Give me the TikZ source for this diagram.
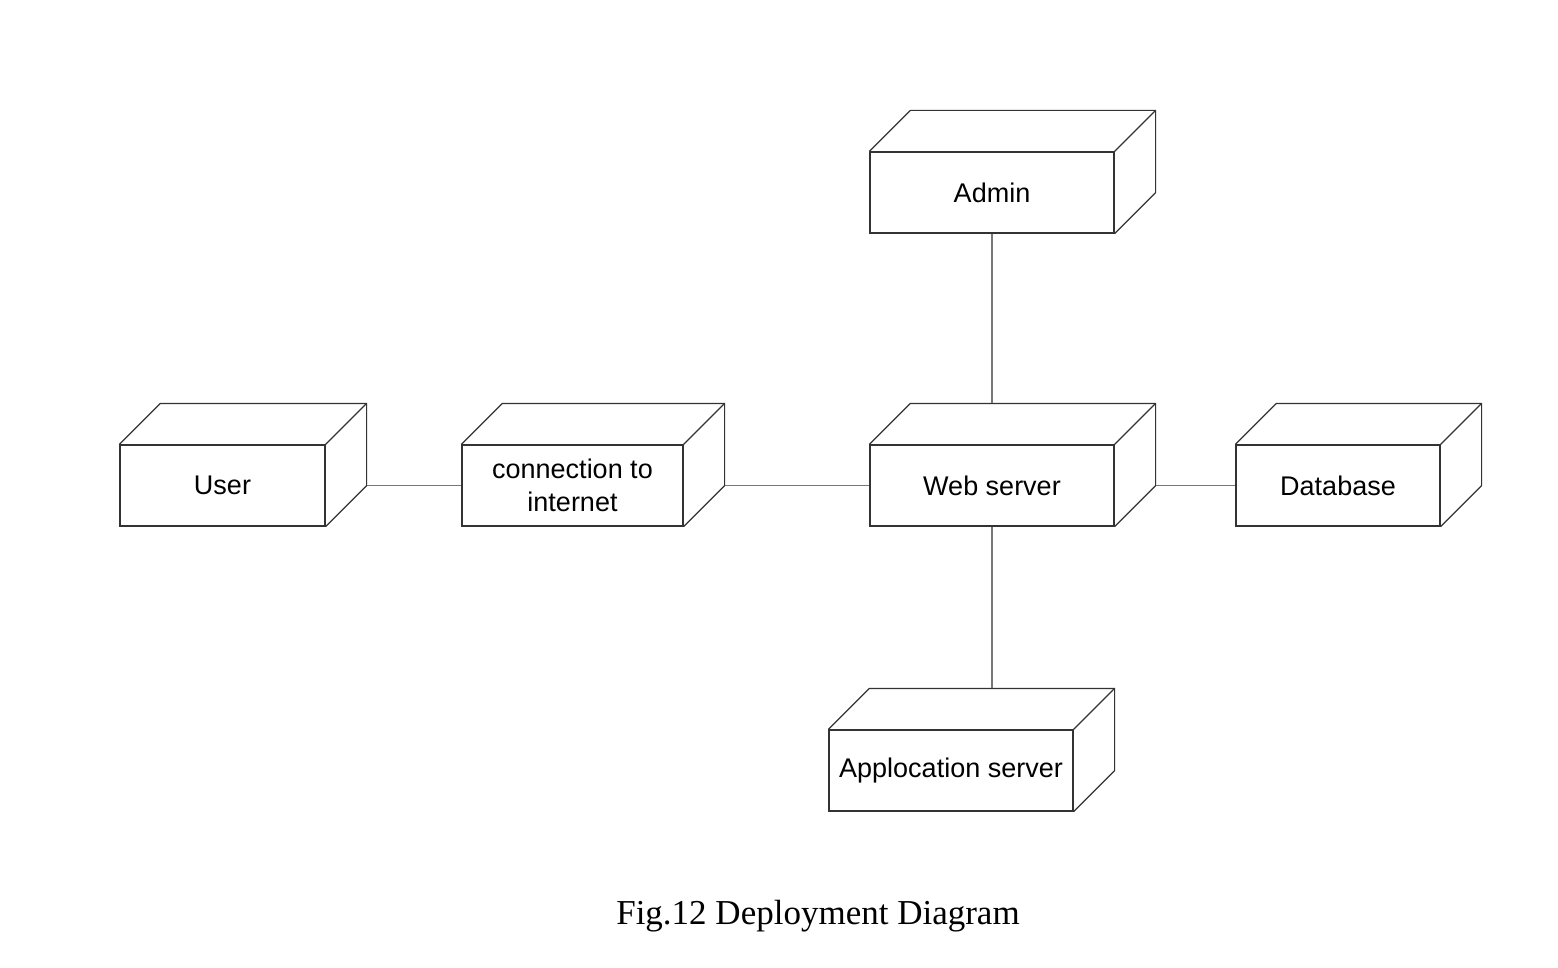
\documentclass[tikz,border=0pt]{standalone}
\usepackage{fontspec}
\setmainfont{Liberation Serif}
\setsansfont{Liberation Sans}
\usepackage{xcolor}
\usepackage{tikz}
\usetikzlibrary{calc}
\definecolor{BoxLine}{HTML}{333333}
\definecolor{LinkGray}{HTML}{777777}
\tikzset{
  device/.style={draw=BoxLine,fill=white,line width=0.6pt,inner sep=0pt,
    minimum height=40.5pt,minimum width=122pt,align=center,
    font=\sffamily\fontsize{13.5}{16.5}\selectfont},
  depth/.style={draw=BoxLine,line width=0.6pt},
  link/.style={draw=LinkGray,line width=0.6pt},
  caption/.style={font=\rmfamily\fontsize{17.5}{20}\selectfont}
}

\begin{document}
\begin{tikzpicture}[x=0.5pt,y=-0.5pt]
  \useasboundingbox (0,0) rectangle (1558,968);
  \node[device] (admin) at (992,192.5) {Admin};
  \node[device,minimum width=102.5pt] (user) at (222.5,485.5) {User};
  \node[device,minimum width=110.5pt] (internet) at (572.5,485.5) {connection to\\internet};
  \node[device] (web) at (992,485.5) {Web server};
  \node[device,minimum width=102pt] (db) at (1338,485.5) {Database};
  \node[device] (appsrv) at (951,770.5) {Applocation server};
  \foreach \n in {admin,user,internet,web,db,appsrv}{
    \draw[depth] (\n.north west) -- ++(20.5pt,20.5pt)
      -| ([shift={(20.5pt,20.5pt)}]\n.south east) -- (\n.south east);
    \draw[depth] (\n.north east) -- ++(20.5pt,20.5pt);
  }
  \coordinate (apptop) at ([yshift=20.5pt]appsrv.north);
  \draw[link] ([xshift=20.5pt]user.east) -- (internet.west);
  \draw[link] ([xshift=20.5pt]internet.east) -- (web.west);
  \draw[link] ([xshift=20.5pt]web.east) -- (db.west);
  \draw[link] (admin.south) -- ([yshift=20.5pt]web.north);
  \draw[link] (web.south) -- (web.south |- apptop);
  \node[caption] (title) at (818,916) {Fig.12 Deployment Diagram};
\end{tikzpicture}
\end{document}
